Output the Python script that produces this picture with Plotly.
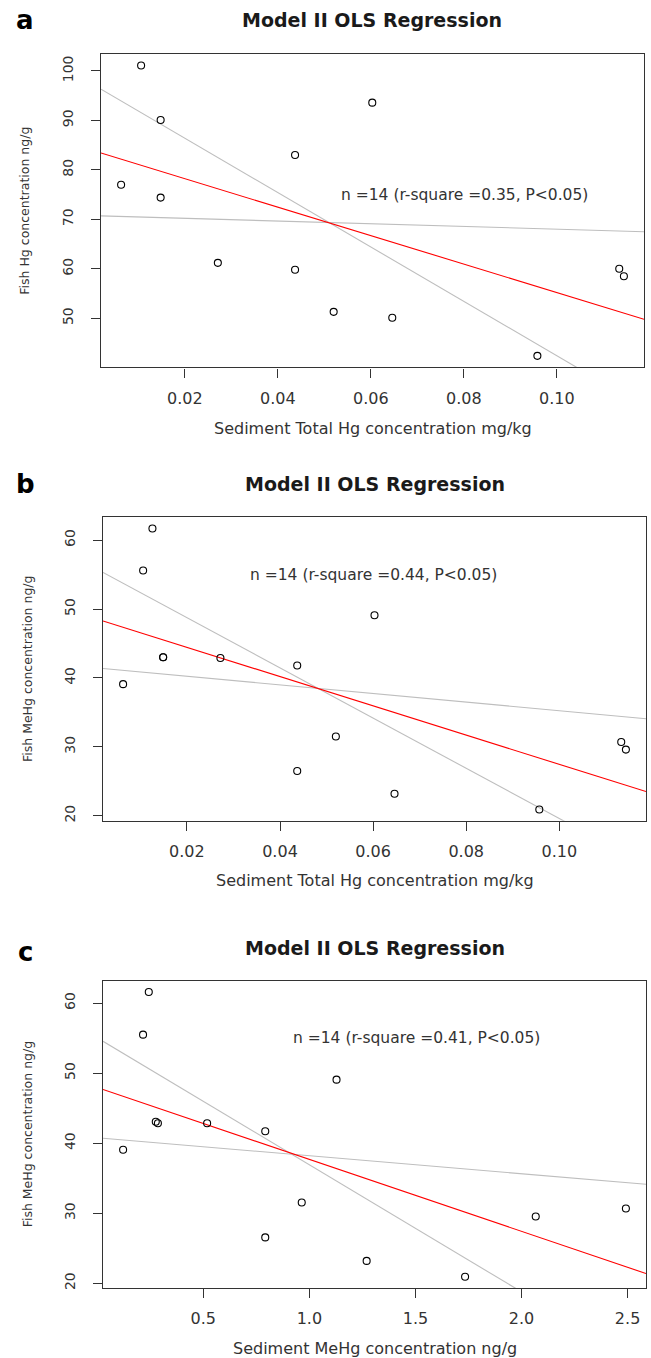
import plotly.graph_objects as go

W, H = 651, 1358

# ---------------- data ----------------
# Panel a: Sediment total Hg (mg/kg) vs Fish Hg (ng/g)
xa = [0.0063, 0.0106, 0.0148, 0.0148, 0.0271, 0.0437, 0.0437, 0.0520, 0.0603, 0.0646, 0.0958, 0.1134, 0.1144]
ya = [77.0, 101.1, 90.1, 74.4, 61.2, 83.0, 59.8, 51.3, 93.6, 50.1, 42.4, 60.0, 58.5]
# Panel b: Sediment total Hg (mg/kg) vs Fish MeHg (ng/g)
xb = [0.0063, 0.0106, 0.0126, 0.0149, 0.0149, 0.0272, 0.0437, 0.0437, 0.0520, 0.0603, 0.0646, 0.0957, 0.1133, 0.1143]
yb = [39.1, 55.6, 61.7, 43.0, 43.0, 42.9, 41.8, 26.5, 31.5, 49.1, 23.2, 20.9, 30.7, 29.6]
# Panel c: Sediment MeHg (ng/g) vs Fish MeHg (ng/g)
xc = [0.122, 0.216, 0.243, 0.276, 0.286, 0.518, 0.792, 0.792, 0.964, 1.128, 1.270, 1.734, 2.067, 2.492]
yc = [39.07, 55.5, 61.6, 43.06, 42.86, 42.86, 41.7, 26.55, 31.53, 49.08, 23.2, 20.94, 29.54, 30.68]

# regression lines (intercept, slope): OLS (red) and two grey lines
lines_a = {"red": (83.98, -287.9), "grey1": (97.4, -549.9), "grey2": (70.75, -27.4)}
lines_b = {"red": (48.69, -212.3), "grey1": (56.04, -364.4), "grey2": (41.5, -62.5)}
lines_c = {"red": (47.96, -10.27), "grey1": (55.04, -18.13), "grey2": (40.79, -2.574)}

labels = ["a", "b", "c"]
title = "Model II OLS Regression"
stats = ["n =14 (r-square =0.35, P<0.05)",
         "n =14 (r-square =0.44, P<0.05)",
         "n =14 (r-square =0.41, P<0.05)"]
xtitles = ["Sediment Total Hg concentration mg/kg",
           "Sediment Total Hg concentration mg/kg",
           "Sediment MeHg concentration ng/g"]
ytitles = ["Fish Hg concentration ng/g",
           "Fish MeHg concentration ng/g",
           "Fish MeHg concentration ng/g"]
xticks_a = [0.02, 0.04, 0.06, 0.08, 0.10]
xticklabels_a = ["0.02", "0.04", "0.06", "0.08", "0.10"]
xticks_c = [0.5, 1.0, 1.5, 2.0, 2.5]
xticklabels_c = ["0.5", "1.0", "1.5", "2.0", "2.5"]
yticks_a = [50, 60, 70, 80, 90, 100]
yticks_bc = [20, 30, 40, 50, 60]

# ---------------- layout geometry (pixels) ----------------
boxes = [  # left, right, top, bottom
    (101, 644, 54, 368),
    (103, 646, 518, 822),
    (103, 646, 982, 1290),
]
label_pos = [(25, 20), (25, 485), (25, 953)]
title_pos = [(372, 20), (375, 485), (375, 949)]
stat_pos = [(464, 195), (373, 576), (416, 1040)]
xtitle_y = [429, 882, 1350]
ytitle_x = [25, 27, 27]

FONT = "DejaVu Sans"


def rrange(v):
    lo, hi = min(v), max(v)
    d = (hi - lo) * 0.04
    return [lo - d, hi + d]


fig = go.Figure()
panels = [(xa, ya, lines_a, xticks_a, xticklabels_a, yticks_a),
          (xb, yb, lines_b, xticks_a, xticklabels_a, yticks_bc),
          (xc, yc, lines_c, xticks_c, xticklabels_c, yticks_bc)]

annotations = []
for i, (xs, ys, lns, xt, xtl, yt) in enumerate(panels):
    n = "" if i == 0 else str(i + 1)
    xr = rrange(xs)
    yr = rrange(ys)
    for key, col in [("grey2", "#bebebe"), ("grey1", "#bebebe"), ("red", "#ff0000")]:
        b0, b1 = lns[key]
        fig.add_trace(go.Scatter(x=[xr[0], xr[1]], y=[b0 + b1 * xr[0], b0 + b1 * xr[1]],
                                 mode="lines", line=dict(color=col, width=1.1),
                                 xaxis="x" + n, yaxis="y" + n, showlegend=False,
                                 hoverinfo="skip"))
    fig.add_trace(go.Scatter(x=xs, y=ys, mode="markers",
                             marker=dict(symbol="circle-open", size=7, color="black",
                                         line=dict(width=1.1, color="black")),
                             xaxis="x" + n, yaxis="y" + n, showlegend=False,
                             cliponaxis=False))
    l, r, t, btm = boxes[i]
    axcommon = dict(showgrid=False, zeroline=False, showline=True, linecolor="#333333",
                    linewidth=1.2, mirror=True, ticks="outside", ticklen=9, tickwidth=1,
                    tickcolor="#333333")
    fig.update_layout(**{
        "xaxis" + n: dict(domain=[l / W, r / W], range=xr, tickvals=xt, ticktext=xtl,
                          anchor="y" + n, ticklabelstandoff=7,
                          tickfont=dict(family=FONT, size=16, color="#333333"), **axcommon),
        "yaxis" + n: dict(domain=[1 - btm / H, 1 - t / H], range=yr, tickvals=yt,
                          ticktext=[str(v) for v in yt], anchor="x" + n,
                          tickangle=-90, ticklabelstandoff=12,
                          tickfont=dict(family=FONT, size=14, color="#333333"), **axcommon),
    })
    annotations += [
        dict(text="<b>" + labels[i] + "</b>", x=label_pos[i][0] / W, y=1 - label_pos[i][1] / H,
             font=dict(family=FONT, size=26, color="black")),
        dict(text="<b>" + title + "</b>", x=title_pos[i][0] / W, y=1 - title_pos[i][1] / H,
             font=dict(family=FONT, size=19, color="#1a1a1a")),
        dict(text=stats[i], x=stat_pos[i][0] / W, y=1 - stat_pos[i][1] / H,
             font=dict(family=FONT, size=15.5, color="#333333")),
        dict(text=xtitles[i], x=((l + r) / 2) / W, y=1 - xtitle_y[i] / H,
             font=dict(family=FONT, size=16, color="#333333")),
        dict(text=ytitles[i], x=ytitle_x[i] / W, y=1 - ((t + btm) / 2) / H, textangle=-90,
             font=dict(family=FONT, size=12.5, color="#333333")),
    ]

for a in annotations:
    a.update(xref="paper", yref="paper", showarrow=False, xanchor="center", yanchor="middle")

fig.update_layout(width=W, height=H, margin=dict(l=0, r=0, t=0, b=0),
                  paper_bgcolor="white", plot_bgcolor="white", annotations=annotations)

fig.write_html("out.html")
